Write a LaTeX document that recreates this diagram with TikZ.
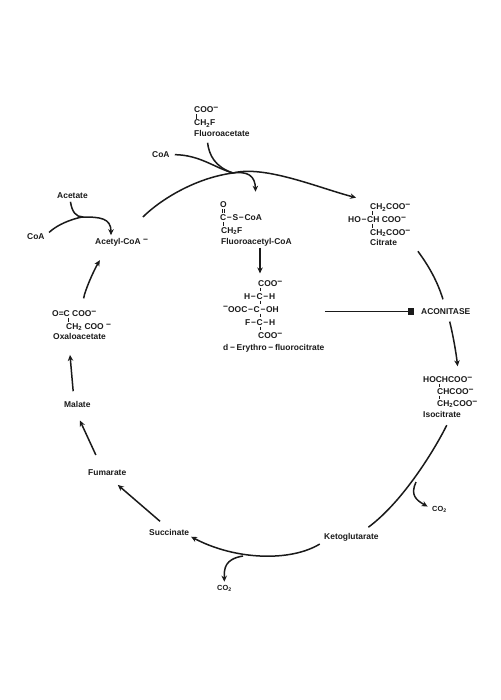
\documentclass[tikz,border=0pt]{standalone}
\usepackage{fontspec}
\setmainfont{Liberation Sans}
\usetikzlibrary{arrows.meta,fit}
\definecolor{Ink}{HTML}{1A1A1A}
\newcommand{\chg}{\raisebox{2.4pt}{\textminus}}
\newcommand{\bnd}{\kern.7pt\textminus\kern.7pt}
\newcommand{\two}{\textsubscript{2}}
\tikzset{
  chem/.style={anchor=base west,inner sep=0pt,text=Ink,font=\bfseries\fontsize{8.45}{9}\selectfont},
  chemSmall/.style={chem,font=\bfseries\fontsize{7.4}{8}\selectfont},
  chemBlock/.style={inner sep=0pt},
  bond/.style={draw=Ink,line width=.7pt},
  cycleArc/.style={draw=Ink,line width=1.5pt},
  cycleStep/.style={cycleArc,-{Stealth[length=6pt,width=5.5pt]}},
  block/.style={draw=Ink,line width=1.5pt,-{Square[length=6pt,width=7pt]}}
}
\begin{document}
\begin{tikzpicture}[x=1pt,y=-1pt]
  \useasboundingbox (0,0) rectangle (500,700);
  % fluoroacetate entry
  \node[chem] (fa1) at (194,113) {COO\chg};
  \node[chem] (fa2) at (194,126) {CH\two F};
  \node[chem] (faName) at (194,136.5) {Fluoroacetate};
  \node[chem] (coaTop) at (152,157.5) {CoA};
  \draw[bond] (196.5,114.5) -- (196.5,119);
  % fluoroacetyl-CoA
  \node[chem] (fo1) at (220,208) {O};
  \node[chem] (fo2) at (220,221) {C\bnd S\bnd CoA};
  \node[chem] (fo3) at (221,233.5) {CH\two F};
  \node[chem] (foName) at (221,244.5) {Fluoroacetyl-CoA};
  \node[chemBlock,fit=(fo1)(fo2)(fo3)(foName)] (foBlock) {};
  \draw[bond] (222,209) -- (222,213);
  \draw[bond] (224,209) -- (224,213);
  \draw[bond] (223,222.5) -- (223,226);
  % fluorocitrate
  \node[chem] (fc1) at (258,286.5) {COO\chg};
  \node[chem] (fc2) at (244,299) {H\bnd C\bnd H};
  \node[chem] (fc3) at (223,312) {\chg OOC\bnd C\bnd OH};
  \node[chem] (fc4) at (245,325) {F\bnd C\bnd H};
  \node[chem] (fc5) at (258,338.5) {COO\chg};
  \node[chem] (fcName) at (223,350.5) {d\kern1pt\bnd\kern1pt Erythro\kern1pt\bnd\kern1pt fluorocitrate};
  \node[chemBlock,fit=(fc1)(fc2)(fc3)(fc4)(fc5)(fcName)] (fcBlock) {};
  \draw[bond] (260,287.5) -- (260,291);
  \draw[bond] (260,300.5) -- (260,304);
  \draw[bond] (260,313.5) -- (260,317);
  \draw[bond] (260,326.5) -- (260,330);
  % citrate
  \node[chem] (ci1) at (370,210) {CH\two COO\chg};
  \node[chem] (ci2) at (348,223) {HO\bnd CH COO\chg};
  \node[chem] (ci3) at (370,235.5) {CH\two COO\chg};
  \node[chem] (ciName) at (370,245.5) {Citrate};
  \node[chemBlock,fit=(ci1)(ci2)(ci3)(ciName)] (ciBlock) {};
  \draw[bond] (372,211) -- (372,215);
  \draw[bond] (372,224) -- (372,228);
  \node[chem] (aconitase) at (421,314.5) {ACONITASE};
  % isocitrate
  \node[chem] (is1) at (423,382.5) {HOCHCOO\chg};
  \node[chem] (is2) at (437,394.5) {CHCOO\chg};
  \node[chem] (is3) at (437,406.5) {CH\two COO\chg};
  \node[chem] (isName) at (423,417.5) {Isocitrate};
  \node[chemBlock,fit=(is1)(is2)(is3)(isName)] (isBlock) {};
  \draw[bond] (439,383.5) -- (439,387);
  \draw[bond] (439,395.5) -- (439,399);
  % lower half of the cycle
  \node[chemSmall] (co2a) at (432,511) {CO\two};
  \node[chem] (keto) at (324,539.5) {Ketoglutarate};
  \node[chem] (succ) at (149,535.5) {Succinate};
  \node[chemSmall] (co2b) at (217,590) {CO\two};
  \node[chem] (fum) at (88,475.5) {Fumarate};
  \node[chem] (mal) at (64,407.5) {Malate};
  % oxaloacetate
  \node[chem] (ox1) at (52,316.5) {O=C COO\chg};
  \node[chem] (ox2) at (66,329.5) {CH\two\ COO \chg};
  \node[chem] (oxName) at (53,339.5) {Oxaloacetate};
  \node[chemBlock,fit=(ox1)(ox2)(oxName)] (oxBlock) {};
  \draw[bond] (68,317.5) -- (68,322);
  % acetate entry
  \node[chem] (acetate) at (57,198.5) {Acetate};
  \node[chem] (coaLeft) at (27,239.5) {CoA};
  \node[chem] (acetyl) at (95,244.5) {Acetyl-CoA \chg};
  % joins on the arcs
  \coordinate (joinTop) at (233,173);
  \coordinate (joinLeft) at (83,217);
  \coordinate (joinIso) at (416,482);
  \coordinate (joinSuc) at (243,556);
  % main cycle
  \draw[cycleStep,shorten <=30pt,shorten >=24pt] (acetyl.north) .. controls (160,200) and (195,178) .. (joinTop) .. controls (265,165) and (319,188) .. (ciBlock.north);
  \draw[cycleArc,shorten <=12pt,shorten >=9.5pt] (ciBlock.-28) .. controls (428,265) and (437,280) .. (aconitase.north);
  \draw[cycleStep,shorten <=7pt,shorten >=10pt] (aconitase.-55) .. controls (453,335) and (456,352) .. (isBlock.68);
  \draw[cycleArc,shorten <=8pt,shorten >=10pt] (isBlock.south) .. controls (437,445) and (405,500) .. (keto.25);
  \draw[cycleStep,shorten <=5pt,shorten >=2pt] (keto.south west) .. controls (290,562) and (235,560) .. (succ.south east);
  \draw[cycleStep,shorten <=12pt,shorten >=14pt] (succ.north) to (fum.south);
  \draw[cycleStep,shorten <=16pt,shorten >=14pt] (fum.146) to (mal.225);
  \draw[cycleStep,shorten <=10pt,shorten >=15pt] (mal.135) to (oxBlock.229);
  \draw[cycleStep,shorten <=12pt,shorten >=16pt] (oxBlock.north) .. controls (85,290) and (94,270) .. (acetyl.197);
  % fluoroacetate branch
  \draw[cycleArc,shorten <=6pt] (faName.south) ++(-15,0) coordinate (faOut) (faOut) .. controls (209,155) and (215,167) .. (joinTop);
  \draw[cycleStep,shorten <=5pt,shorten >=10pt] (coaTop.east) .. controls (200,155) and (215,168) .. (joinTop) .. controls (248,171) and (255,176) .. (foBlock.north);
  \draw[cycleStep,shorten <=1pt,shorten >=7pt] ([xshift=2pt]foBlock.south -| fc1.north west) -- ([xshift=2pt]fc1.north west);
  \draw[block,shorten >=7.5pt] (fcBlock.east |- aconitase.west) -- (aconitase.west);
  % acetate branch
  \draw[cycleArc] (acetate.south) ++(-2,3) coordinate (acOut) (acOut) .. controls (72,212) and (76,217) .. (joinLeft);
  \draw[cycleStep,shorten <=6pt,shorten >=3pt] (coaLeft.east) .. controls (60,222) and (80,217) .. (joinLeft) .. controls (100,217) and (111,218) .. (acetyl.north -| 111,0);
  % side products
  \draw[cycleStep,shorten >=5pt] (joinIso) .. controls (410,495) and (416,500) .. (co2a.west);
  \draw[cycleStep,shorten >=3pt] (joinSuc) .. controls (225,559) and (224,568) .. (co2b.north);
\end{tikzpicture}
\end{document}
